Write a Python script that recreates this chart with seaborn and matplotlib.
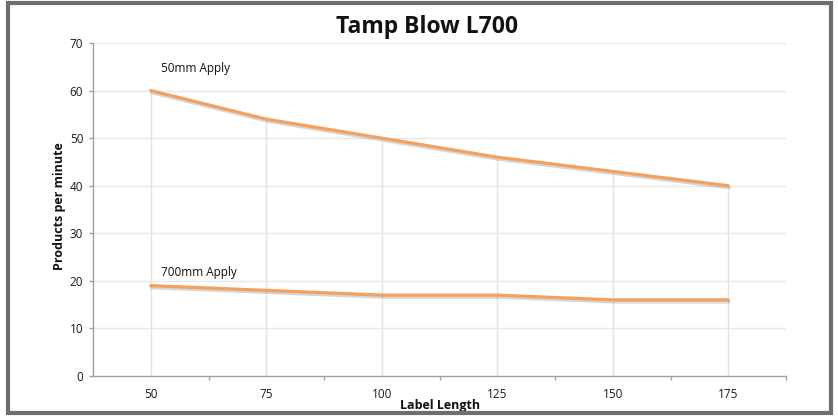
import matplotlib
matplotlib.use("Agg")
import matplotlib.pyplot as plt
import matplotlib.patheffects as pe
from matplotlib.patches import Rectangle
import seaborn as sns
import pandas as pd

label_length = [50, 75, 100, 125, 150, 175]
apply_50mm = [60, 54, 50, 46, 43, 40]
apply_700mm = [19, 18, 17, 17, 16, 16]
series_names = ["50mm Apply", "700mm Apply"]
y_ticks = [0, 10, 20, 30, 40, 50, 60, 70]

df = pd.DataFrame({
    "Label Length": label_length * 2,
    "Products per minute": apply_50mm + apply_700mm,
    "Series": [series_names[0]] * len(label_length) + [series_names[1]] * len(label_length),
})

sns.set_theme(style="white")
plt.rcParams["font.family"] = ["Open Sans", "DejaVu Sans"]

fig = plt.figure(figsize=(8.38, 4.16), dpi=100)
ax = fig.add_axes([93 / 838, 1 - 376 / 416, (786 - 93) / 838, (376 - 43) / 416])

orange = "#F5A05C"
sns.lineplot(data=df, x="Label Length", y="Products per minute", hue="Series",
             palette=[orange, orange], linewidth=2.3, legend=False, ax=ax,
             path_effects=[pe.SimpleLineShadow(offset=(0.8, -1.5), shadow_color="#999999", alpha=0.4),
                           pe.Normal()], zorder=3)

ax.set_xlim(37.5, 187.5)
ax.set_ylim(0, 70)
ax.set_yticks(y_ticks)
ax.set_xticks(label_length)
ax.set_xticks([62.5, 87.5, 112.5, 137.5, 162.5, 187.5], minor=True)

# horizontal gridlines
for yv in y_ticks[1:]:
    ax.axhline(yv, color="#e8e8e8", lw=1, zorder=1)
# drop lines from upper series
ax.vlines(label_length, 0, apply_50mm, color="#e2e2e2", lw=1, zorder=1)

for s in ["top", "right"]:
    ax.spines[s].set_visible(False)
for s in ["left", "bottom"]:
    ax.spines[s].set_color("#a0a0a0")
    ax.spines[s].set_linewidth(1)

ax.tick_params(axis="y", which="major", left=True, length=3, width=1, color="#a0a0a0",
               labelsize=8.5, pad=4, labelcolor="#1a1a1a")
ax.tick_params(axis="x", which="major", bottom=False, length=0, labelsize=8.5, pad=8.5, labelcolor="#1a1a1a")
ax.tick_params(axis="x", which="minor", bottom=True, length=3, width=1, color="#a0a0a0")

ax.set_xlabel("")
ax.set_ylabel("")

ax.text(label_length[0] + 2.2, apply_50mm[0] + 3.2, series_names[0], fontsize=8.5, color="#111111", va="bottom", ha="left")
ax.text(label_length[0] + 2.2, apply_700mm[0] + 1.3, series_names[1], fontsize=8.5, color="#111111", va="bottom", ha="left")

fig.text(427 / 838, 1 - 27 / 416, "Tamp Blow L700", fontsize=16.5, fontweight="bold", ha="center", va="center", color="#111111")
fig.text(440 / 838, 1 - 405 / 416, "Label Length", fontsize=9, fontweight="bold", ha="center", va="center", color="#111111")
fig.text(60 / 838, 1 - 206 / 416, "Products per minute", fontsize=9, fontweight="bold", ha="center", va="center", rotation=90, color="#111111")

fig.patches.append(Rectangle((8 / 838, 3 / 416), (831 - 8) / 838, (413 - 3) / 416, transform=fig.transFigure,
                             fill=False, edgecolor="#6e6e6e", linewidth=3, zorder=10))

fig.savefig("out.png", dpi=100, facecolor="white")
